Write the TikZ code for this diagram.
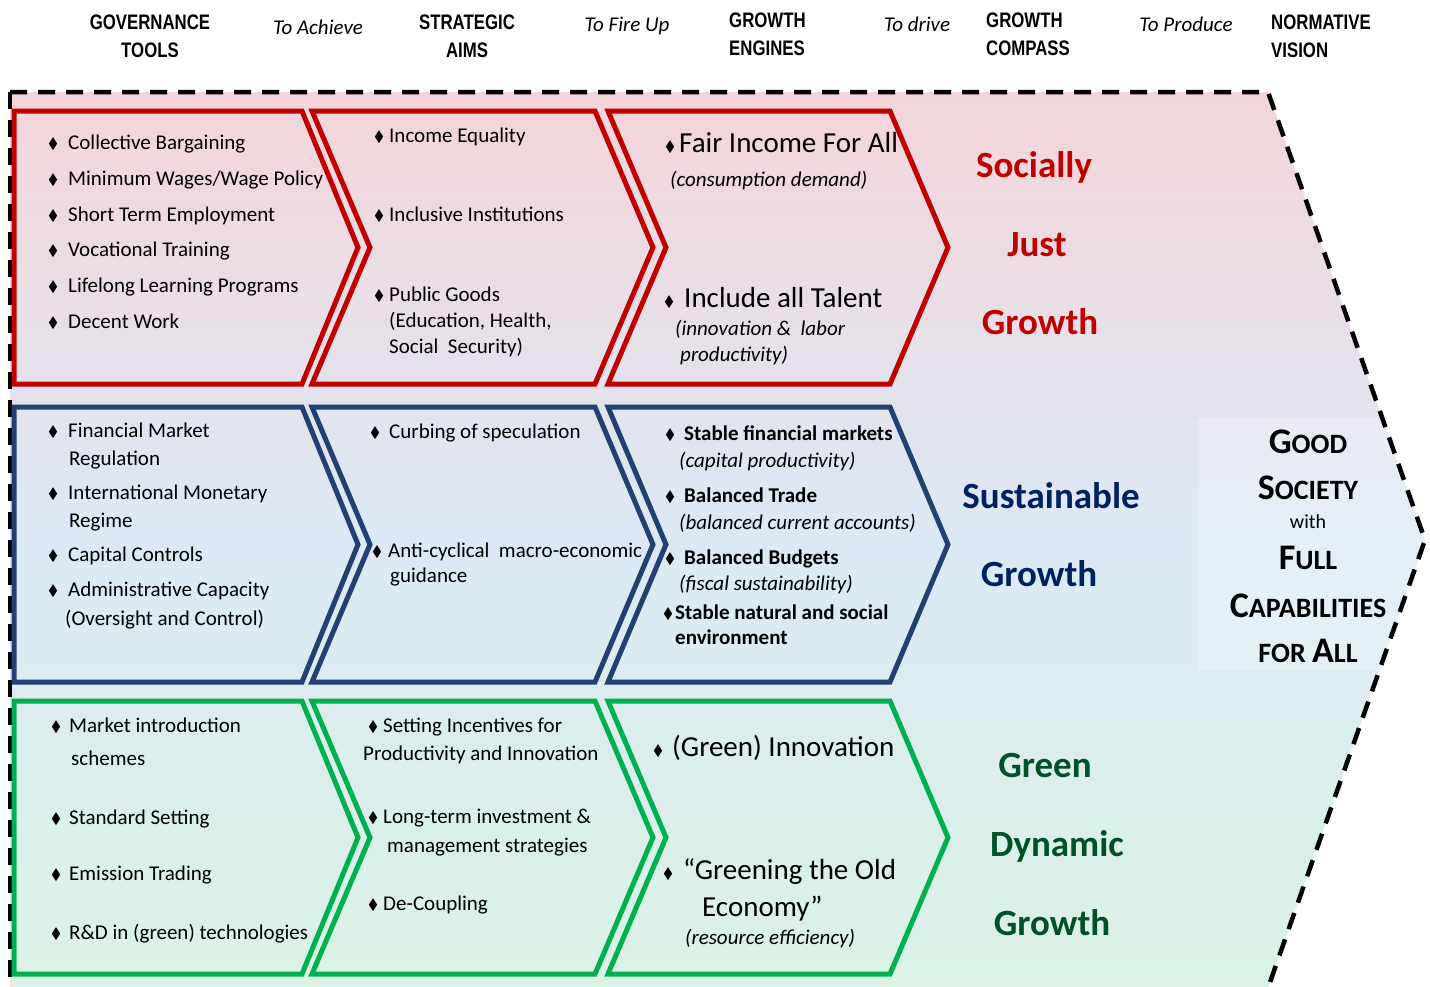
\documentclass[tikz,border=0pt]{standalone}
\usepackage{amssymb}
\usepackage{fontspec}
\setmainfont{Carlito}
\newfontfamily\headfont[FakeStretch=0.8]{Liberation Sans}
\usetikzlibrary{positioning}

\definecolor{redline}{RGB}{192,0,0}
\definecolor{blueline}{RGB}{36,64,115}
\definecolor{greenline}{RGB}{0,176,80}
\definecolor{bluetext}{RGB}{0,32,96}
\definecolor{greentext}{RGB}{0,80,40}
\definecolor{pinkbg}{RGB}{243,213,217}
\definecolor{bluebg}{RGB}{220,233,245}
\definecolor{greenbg}{RGB}{219,242,229}

\newcommand{\bul}[1][20pt]{\makebox[#1][l]{\raisebox{0.5pt}{\fontsize{15}{15}\selectfont$\blacklozenge$}}}
\newcommand{\bigsc}[2]{{\fontsize{36}{36}\selectfont #1}{\fontsize{28}{28}\selectfont #2}}

\begin{document}
\begin{tikzpicture}[
        x=1pt, y=-1pt,
        chev/.style={draw=#1, line width=5pt, line join=miter},
        outline/.style={line width=4.5pt, dash pattern=on 17pt off 11pt},
        head/.style={font=\headfont\bfseries\fontsize{21}{28}\selectfont, inner sep=0pt},
        link/.style={font=\fontsize{21}{24}\selectfont\itshape, inner sep=0pt},
        item/.style={anchor=mid west, yshift=-5pt, inner sep=0pt, font=\fontsize{21}{25}\selectfont},
        bolditem/.style={item, font=\fontsize{21}{25}\selectfont\bfseries},
        bigitem/.style={item, yshift=-2pt, font=\fontsize{29}{32}\selectfont},
        note/.style={item, font=\fontsize{21}{24}\selectfont\itshape},
        goal/.style={anchor=mid, yshift=-10pt, inner sep=0pt, font=\fontsize{37}{40}\selectfont\bfseries},
        vision/.style={inner sep=0pt, font=\bfseries},
    ]
    \useasboundingbox (0,0) rectangle (1430,986);

    % outer arrow
    \coordinate (tl) at (10,92);
    \coordinate (tr) at (1268,92);
    \coordinate (tip) at (1425,540);
    \coordinate (br) at (1268,988);
    \coordinate (bl) at (10,988);
    \shade[top color=pinkbg, bottom color=greenbg, middle color=bluebg]
        (tl) -- (tr) -- (tip) -- (br) -- (bl) -- cycle;
    \begin{scope}
        \clip (tl) -- (tr) -- (tip) -- (br) -- (bl) -- cycle;
        \fill[white, opacity=0.25] (1198,418) rectangle (1430,670);
    \end{scope}
    \draw[outline] (tl) -- (bl);
    \draw[outline] (tl) -- (tr) -- (tip) -- (br);

    % header
    \node[head, align=center] (tools) at (150,36) {GOVERNANCE\\TOOLS};
    \node[link] (achieve) at (318,27) {To Achieve};
    \node[head, align=center] (aims) at (467,36) {STRATEGIC\\AIMS};
    \node[link] (fire) at (627,26) {To Fire Up};
    \node[head, align=left, anchor=west] (engines) at (729,34) {GROWTH\\ENGINES};
    \node[link] (drive) at (917,24) {To drive};
    \node[head, align=left, anchor=west] (compass) at (986,34) {GROWTH\\COMPASS};
    \node[link] (produce) at (1186,24) {To Produce};
    \node[head, align=left, anchor=west] (normvision) at (1271,36) {NORMATIVE\\VISION};

    % chevrons
    \foreach \yt/\yb/\c in {111/384/redline, 407/682/blueline, 701/974/greenline}{
        \pgfmathsetmacro\ym{(\yt+\yb)/2}
        \draw[chev=\c] (14,\yt) -- (302,\yt) -- (358,\ym) -- (302,\yb) -- (14,\yb) -- cycle;
        \draw[chev=\c] (312,\yt) -- (595,\yt) -- (653,\ym) -- (595,\yb) -- (312,\yb) -- (370,\ym) -- cycle;
        \draw[chev=\c] (608,\yt) -- (890,\yt) -- (948,\ym) -- (890,\yb) -- (608,\yb) -- (666,\ym) -- cycle;
    }

    % social row
    \foreach \y/\t [count=\i] in {142/Collective Bargaining, 178/{Minimum Wages/Wage Policy},
            214/Short Term Employment, 249/Vocational Training,
            285/Lifelong Learning Programs, 321/Decent Work}
        \node[item] (social\i) at (48,\y) {\bul\t};
    \node[item] (equality) at (374,135) {\bul[15pt]Income Equality};
    \node[item] (institutions) at (374,214) {\bul[15pt]Inclusive Institutions};
    \node[item] (goods) at (374,294) {\bul[15pt]Public Goods};
    \node[item] (goods2) at (389,320) {(Education, Health,};
    \node[item] (goods3) at (389,346) {Social\ \ Security)};
    \node[bigitem] (fairincome) at (665,143) {\bul[14pt]Fair Income For All};
    \node[note] (consumption) at (670,179) {(consumption demand)};
    \node[bigitem] (talent) at (664,298) {\bul[20pt]Include all Talent};
    \node[note] (innovation) at (675,328) {(innovation \&\ \ labor};
    \node[note] (labor) at (680,354) {productivity)};
    \node[goal, redline] (socially) at (1034,165) {Socially};
    \node[goal, redline] (just) at (1037,244) {Just};
    \node[goal, redline] (growth1) at (1040,322) {Growth};

    % sustainable row
    \node[item] (market) at (48,430) {\bul Financial Market};
    \node[item] (market2) at (69,458) {Regulation};
    \node[item] (monetary) at (48,492) {\bul International Monetary};
    \node[item] (monetary2) at (69,520) {Regime};
    \node[item] (capital) at (48,554) {\bul Capital Controls};
    \node[item] (admin) at (48,589) {\bul Administrative Capacity};
    \node[item] (admin2) at (65,618) {(Oversight and Control)};
    \node[item] (curbing) at (370,431) {\bul[19pt]Curbing of speculation};
    \node[item] (cyclical) at (372,550) {\bul[16pt]Anti-cyclical\ \ macro-economic};
    \node[item] (cyclical2) at (390,575) {guidance};
    \node[bolditem] (stable) at (665,433) {\bul[19pt]Stable financial markets};
    \node[note] (stable2) at (679,460) {(capital productivity)};
    \node[bolditem] (trade) at (665,495) {\bul[19pt]Balanced Trade};
    \node[note] (trade2) at (679,522) {(balanced current accounts)};
    \node[bolditem] (budgets) at (665,557) {\bul[19pt]Balanced Budgets};
    \node[note] (budgets2) at (679,583) {(fiscal sustainability)};
    \node[bolditem] (nature) at (663,612) {\bul[12pt]Stable natural and social};
    \node[bolditem] (nature2) at (675,637) {environment};
    \node[goal, bluetext] (sustainable) at (1051,496) {Sustainable};
    \node[goal, bluetext] (growth2) at (1039,574) {Growth};

    % green row
    \node[item] (intro) at (51,725) {\bul[18pt]Market introduction};
    \node[item] (intro2) at (71,758) {schemes};
    \node[item] (standard) at (51,817) {\bul[18pt]Standard Setting};
    \node[item] (emission) at (51,873) {\bul[18pt]Emission Trading};
    \node[item] (rnd) at (51,932) {\bul[18pt]R\&D in (green) technologies};
    \node[item] (incentives) at (368,725) {\bul[15pt]Setting Incentives for};
    \node[item] (incentives2) at (363,753) {Productivity and Innovation};
    \node[item] (longterm) at (368,816) {\bul[15pt]Long-term investment \&};
    \node[item] (longterm2) at (387,845) {management strategies};
    \node[item] (decoupling) at (368,903) {\bul[15pt]De-Coupling};
    \node[bigitem] (greeninno) at (653,747) {\bul[19pt](Green) Innovation};
    \node[bigitem] (greening) at (663,870) {\bul[20pt]“Greening the Old};
    \node[bigitem] (greening2) at (702,907) {Economy”};
    \node[note] (resource) at (685,937) {(resource efficiency)};
    \node[goal, greentext] (green) at (1045,765) {Green};
    \node[goal, greentext] (dynamic) at (1057,844) {Dynamic};
    \node[goal, greentext] (growth3) at (1052,923) {Growth};

    % normative vision
    \node[vision] (good) at (1308,442) {\bigsc{G}{OOD}};
    \node[vision] (society) at (1308,488) {\bigsc{S}{OCIETY}};
    \node[inner sep=0pt, font=\fontsize{20}{24}\selectfont] (with) at (1308,522) {with};
    \node[vision] (full) at (1308,558) {\bigsc{F}{ULL}};
    \node[vision] (capabilities) at (1308,606) {\bigsc{C}{APABILITIES}};
    \node[vision] (forall) at (1308,651) {{\fontsize{28}{28}\selectfont FOR }\bigsc{A}{LL}};
\end{tikzpicture}
\end{document}
